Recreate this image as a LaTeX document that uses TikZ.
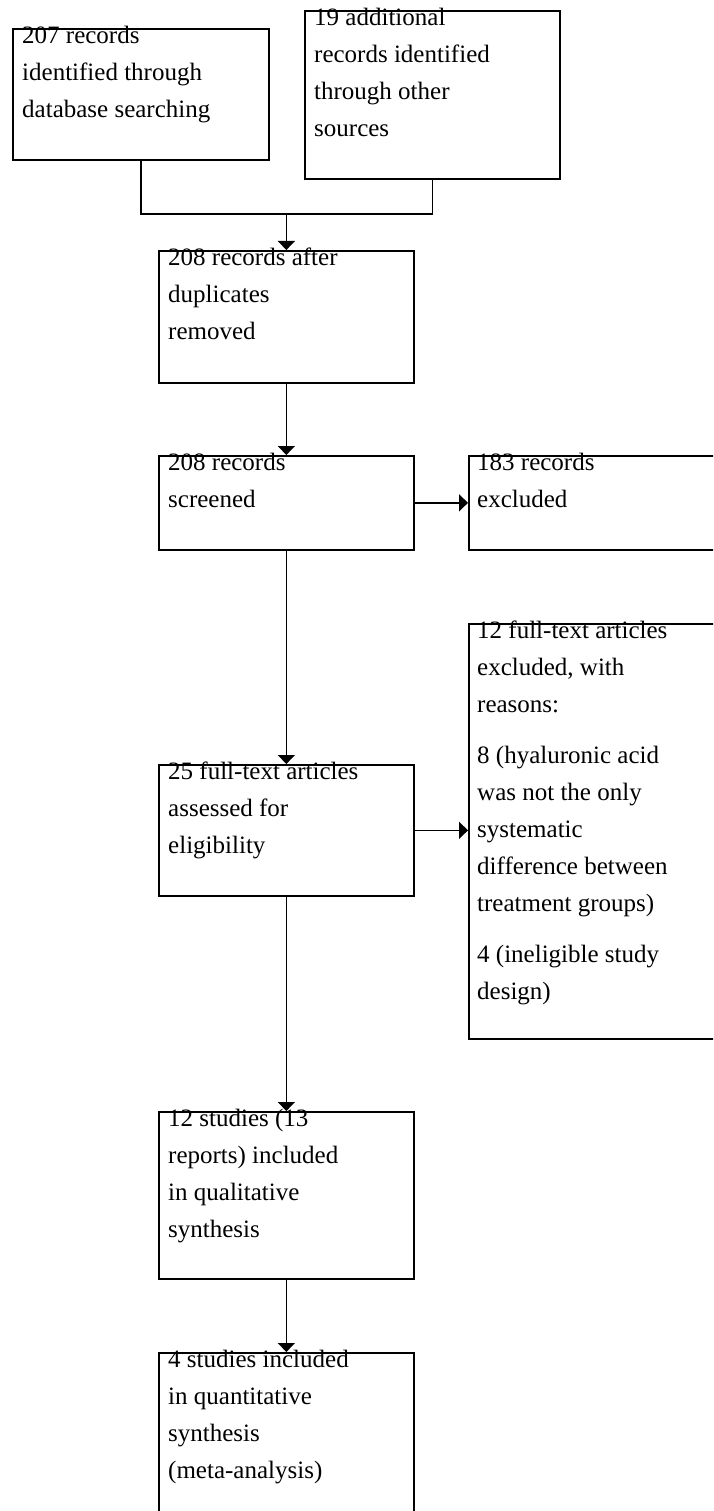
\documentclass[tikz,border=0pt]{standalone}
\usepackage{fontspec}
\setmainfont{Liberation Serif}
\usetikzlibrary{arrows.meta,positioning}
\newcommand{\firstline}{\rule{0pt}{20pt}}

\begin{document}
\begin{tikzpicture}[x=1pt,y=-1pt,
    box/.style={draw,line width=1.7pt,minimum width=255pt,inner sep=0pt,anchor=north west},
    txt/.style={anchor=north west,inner sep=0pt,align=left,font=\fontsize{25}{37}\selectfont},
    arr/.style={-{Triangle[length=9pt,width=17pt]},line width=1.7pt}]
    \fill[white] (0,0) rectangle (713,1511);
    \useasboundingbox (0,0) rectangle (713,1511);
    \clip (0,0) rectangle (713,1511);
    \node[box,minimum width=256pt,minimum height=131pt] (ident) at (12,28) {};
    \node[box,minimum height=168pt] (other) at (304,10) {};
    \node[box,minimum height=132pt] (dedup) at (158,250) {};
    \node[box,minimum height=94pt] (screen) at (158,455) {};
    \node[box,minimum width=280pt,minimum height=94pt] (excl) at (468,455) {};
    \node[box,minimum height=131pt] (fulltext) at (158,764) {};
    \node[box,minimum width=280pt,minimum height=415pt] (ftexcl) at (468,623) {};
    \node[box,minimum height=167pt] (qual) at (158,1111) {};
    \node[box,minimum height=200pt] (quant) at (158,1352) {};
    \node[txt] (identtxt) at ([xshift=10pt,yshift=5pt]ident.north west)
      {\firstline 207 records\\identified through\\database searching};
    \node[txt] (othertxt) at ([xshift=10pt,yshift=5pt]other.north west)
      {\firstline 19 additional\\records identified\\through other\\sources};
    \node[txt] (deduptxt) at ([xshift=10pt,yshift=5pt]dedup.north west)
      {\firstline 208 records after\\duplicates\\removed};
    \node[txt] (screentxt) at ([xshift=10pt,yshift=5pt]screen.north west)
      {\firstline 208 records\\screened};
    \node[txt] (excltxt) at ([xshift=9pt,yshift=5pt]excl.north west)
      {\firstline 183 records\\excluded};
    \node[txt] (fulltexttxt) at ([xshift=10pt,yshift=5pt]fulltext.north west)
      {\firstline 25 full-text articles\\assessed for\\eligibility};
    \node[txt] (ftexcltxt) at ([xshift=9pt,yshift=5pt]ftexcl.north west)
      {\firstline 12 full-text articles\\excluded, with\\reasons:\\[14pt]
       8 (hyaluronic acid\\was not the only\\systematic\\difference between\\treatment groups)\\[14pt]
       4 (ineligible study\\design)};
    \node[txt] (qualtxt) at ([xshift=10pt,yshift=5pt]qual.north west)
      {\firstline 12 studies (13\\reports) included\\in qualitative\\synthesis};
    \node[txt] (quanttxt) at ([xshift=10pt,yshift=5pt]quant.north west)
      {\firstline 4 studies included\\in quantitative\\synthesis\\(meta-analysis)};
    \coordinate (join) at (dedup.north |- 0,214);
    \draw[line width=1.7pt] (ident.south) |- (join) -| (other.south);
    \draw[arr] (join)--(dedup.north);
    \draw[arr] (dedup)--(screen);
    \draw[arr] (screen.east)--(excl.west |- screen.east);
    \draw[arr] (screen)--(fulltext);
    \draw[arr] (fulltext.east)--(ftexcl.west |- fulltext.east);
    \draw[arr] (fulltext)--(qual);
    \draw[arr] (qual)--(quant);
  \end{tikzpicture}
\end{document}
